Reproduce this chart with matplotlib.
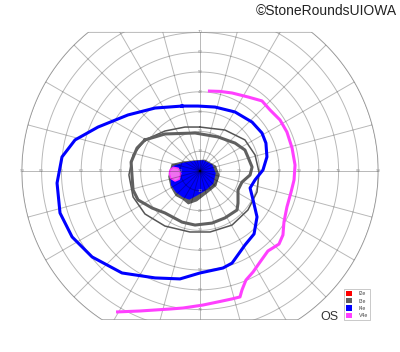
import numpy as np
import matplotlib
matplotlib.use('Agg')
import matplotlib.pyplot as plt
from matplotlib.patches import Polygon, Patch

plt.rcParams['font.family'] = ['Liberation Sans', 'DejaVu Sans']

# isopters, in degrees (x: left/right, y: up/down)
i4e_x = [-9.1, -22.7, -36.4, -51.5, -63.1, -69.7, -72.2, -70.7, -64.6, -54.5, -39.4, -22.7, -10.1, 0.0,
         11.6, 16.2, 22.7, 27.3, 28.8, 26.8, 25.3, 27.8, 31.8, 33.8, 33.3, 31.3, 26.3, 17.7, 7.6, -1.0]
i4e_y = [32.8, 31.8, 28.3, 22.2, 15.7, 7.1, -6.1, -21.2, -33.3, -43.4, -51.5, -54.0, -54.5, -51.5,
         -49.0, -46.5, -37.4, -31.8, -23.2, -14.6, -8.6, -4.5, 0.5, 7.1, 14.1, 19.2, 24.7, 29.8, 32.3, 32.8]

v4e_x = [4.0, 10.1, 16.2, 24.2, 31.3, 35.4, 40.4, 43.9, 46.5, 48.0, 47.5, 46.0, 43.9, 42.4, 41.9,
         39.9, 34.3, 30.3, 26.8, 23.2, 21.2, 20.2, 16.2, 10.1, 1.5, -8.6, -15.2, -30.3, -42.4]
v4e_y = [40.4, 40.2, 39.4, 37.4, 35.4, 30.8, 25.8, 19.7, 11.6, 3.0, -4.5, -10.6, -18.2, -25.8, -32.3,
         -36.9, -40.4, -46.0, -51.0, -55.1, -60.1, -63.6, -64.6, -65.9, -67.7, -69.2, -69.7, -70.7, -71.2]

i3e_x = [-27.8, -17.7, -2.5, 9.1, 17.7, 22.7, 24.2, 26.3, 25.3, 21.2, 19.2, 19.2, 18.7, 12.6, 6.1, -2.5,
         -9.1, -17.7, -24.2, -31.3, -33.8, -34.3, -34.8, -31.8]
i3e_y = [15.7, 18.7, 19.2, 17.2, 14.1, 10.6, 7.1, 2.0, -2.0, -5.6, -9.6, -16.2, -19.7, -23.7, -26.3, -27.3,
         -25.8, -21.2, -18.7, -14.6, -9.6, -3.0, 4.5, 11.6]

ring_x = [0.0, 12.6, 22.7, 27.8, 29.8, 28.8, 24.2, 16.2, 5.1, -5.1, -17.7, -27.8, -33.8, -35.9, -33.8,
          -27.8, -17.7, -7.6]
ring_y = [22.2, 20.7, 15.7, 8.1, -0.5, -10.6, -19.7, -27.3, -30.8, -30.8, -27.8, -21.7, -13.1, -2.0, 8.1,
          15.7, 20.2, 22.2]

# central filled areas
gray_blob_x = [-14.1, -9.1, -3.5, 2.5, 7.8, 9.5, 8.0, 3.6, -1.7, -5.9, -8.6, -12.0, -14.5, -15.7]
gray_blob_y = [3.2, 4.4, 5.0, 5.4, 2.4, -2.0, -7.3, -10.9, -15.0, -16.5, -14.2, -12.4, -8.1, -2.9]
blue_blob_x = [-13.5, -8.4, -3.4, 1.7, 5.9, 7.6, 6.4, 2.5, -1.7, -5.4, -8.4, -11.8, -14.3, -14.8]
blue_blob_y = [2.2, 3.9, 4.7, 5.1, 3.0, -1.2, -6.2, -9.6, -12.1, -14.1, -13.0, -10.6, -7.1, -2.0]
pink_blob_x = [-15.2, -13.5, -11.0, -9.7, -10.5, -12.6, -14.8, -15.5]
pink_blob_y = [0.5, 1.9, 1.4, -1.2, -4.2, -5.1, -3.7, -1.2]

legend_labels = ['I2e', 'I3e', 'I4e', 'V4e']
legend_colors = ['#ff0000', '#606060', '#0000ff', '#ff40ff']

rings = np.arange(10, 100, 10)
meridians = np.arange(0, 360, 15)
top_limit, bottom_limit = 70, -75


def closed(xs, ys):
    return list(xs) + [xs[0]], list(ys) + [ys[0]]


def draw_chart():
    fig = plt.figure(figsize=(4.0, 3.52), dpi=100)
    ax = fig.add_axes([0, 0, 1, 1])
    # 200 px -> 101.0 deg, centre at (200, 171) px
    s = 1.98
    ax.set_xlim(-200 / s, 200 / s)
    ax.set_ylim(-(352 - 171) / s, 171 / s)
    ax.set_aspect('equal')
    ax.axis('off')

    # chart outline: 90 deg circle cut at the top and bottom
    t = np.linspace(0, 2 * np.pi, 721)
    bx = 90 * np.cos(t)
    by = np.clip(90 * np.sin(t), bottom_limit, top_limit)
    clip = Polygon(np.column_stack([bx, by]), closed=True, transform=ax.transData,
                   facecolor='none', edgecolor='none')
    ax.add_patch(clip)

    grid_kw = dict(color='black', alpha=0.28, lw=0.7, zorder=2)
    for r in rings:
        ln, = ax.plot(r * np.cos(t), r * np.sin(t), **grid_kw)
        ln.set_clip_path(clip)
    for m in meridians:
        a = np.deg2rad(m)
        ln, = ax.plot([0, 100 * np.cos(a)], [0, 100 * np.sin(a)], **grid_kw)
        ln.set_clip_path(clip)
    ax.plot(bx, by, **grid_kw)

    # axis numbers
    for r in rings:
        for sx in (-1, 1):
            ax.text(sx * r, 0, str(r), fontsize=3.2, color='#999999', ha='center', va='center', zorder=2)
        if r <= top_limit:
            ax.text(0, r, str(r), fontsize=3.2, color='#999999', ha='center', va='center', zorder=2)
        if r <= -bottom_limit:
            ax.text(0, -r, str(r), fontsize=3.2, color='#999999', ha='center', va='center', zorder=2)

    # central scotoma fills
    ax.fill(gray_blob_x, gray_blob_y, color='#606060', zorder=1)
    ax.fill(blue_blob_x, blue_blob_y, color='#0000ff', zorder=1.2)
    ax.fill(pink_blob_x, pink_blob_y, facecolor='#f070f0', edgecolor='#ff30ff', lw=1.0, zorder=1.4)

    # isopters
    x, y = closed(ring_x, ring_y)
    ax.plot(x, y, color='#555555', lw=1.1, zorder=3, solid_joinstyle='round')
    x, y = closed(i3e_x, i3e_y)
    ax.plot(x, y, color='#606060', lw=2.2, zorder=3, solid_joinstyle='round')
    x, y = closed(i4e_x, i4e_y)
    ax.plot(x, y, color='#0000ff', lw=2.2, zorder=4, solid_joinstyle='round')
    ax.plot(v4e_x, v4e_y, color='#ff40ff', lw=2.2, zorder=4, solid_joinstyle='round',
            solid_capstyle='butt')

    handles = [Patch(facecolor=c, edgecolor='none') for c in legend_colors]
    leg = ax.legend(handles, legend_labels, loc='lower left', bbox_to_anchor=(0.86, 0.09),
                    fontsize=3.8, frameon=True, fancybox=False, handlelength=1.2, handleheight=1.2,
                    handletextpad=1.2, labelspacing=0.35, borderpad=0.4, borderaxespad=0)
    leg.get_frame().set_edgecolor('#b0b0b0')
    leg.get_frame().set_linewidth(0.6)
    for txt in leg.get_texts():
        txt.set_color('#444444')

    fig.text(329 / 400, 1 - 317 / 352, 'OS', fontsize=9, color='#333333', ha='center', va='center')
    fig.text(397 / 400, 1 - 11 / 352, '©StoneRoundsUIOWA', fontsize=10, color='#222222',
             ha='right', va='center')

    fig.savefig('out.png', dpi=100)
    plt.close(fig)


if __name__ == "__main__":
    draw_chart()
